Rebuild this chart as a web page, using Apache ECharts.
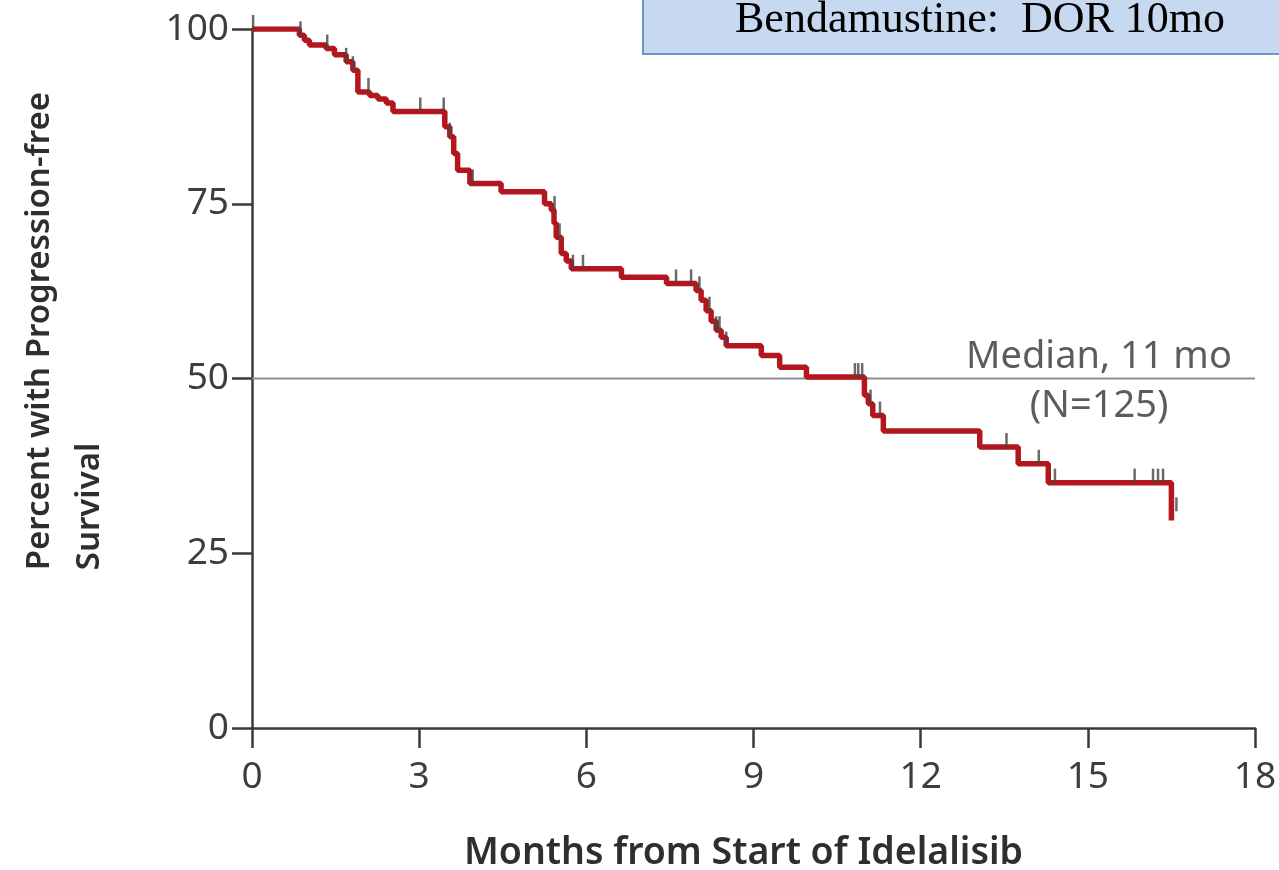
<!DOCTYPE html>
<html>
<head>
<meta charset="utf-8">
<title>Progression-free survival</title>
<script src="https://cdn.jsdelivr.net/npm/echarts@6/dist/echarts.min.js"></script>
<style>
  html, body { margin: 0; padding: 0; background: #fff; }
  #chart { width: 1279px; height: 870px; }
</style>
</head>
<body>
<div id="chart"></div>
<script>
	// Kaplan-Meier steps: time (months) and survival after each drop (%)
	const kmTimes = [0, 0.85, 0.94, 1.03, 1.33, 1.48, 1.69, 1.81, 1.90, 2.11,
		2.26, 2.41, 2.53, 3.46, 3.55, 3.62, 3.69, 3.91, 4.47, 5.25,
		5.37, 5.42, 5.46, 5.55, 5.64, 5.73, 6.63, 7.44, 7.97, 8.06,
		8.15, 8.24, 8.33, 8.42, 8.51, 9.14, 9.47, 9.95, 10.99, 11.06,
		11.14, 11.33, 13.06, 13.75, 14.29, 16.5];
	const kmSurv = [100, 99.1, 98.4, 97.7, 97.2, 96.3, 95.3, 94.1, 91.0, 90.5,
		90.0, 89.4, 88.2, 86.0, 84.6, 82.2, 79.8, 77.9, 76.7, 75.0,
		74.1, 72.2, 70.2, 67.9, 66.8, 65.7, 64.5, 63.6, 62.6, 61.2,
		59.7, 58.2, 56.9, 55.9, 54.7, 53.3, 51.6, 50.2, 47.6, 46.4,
		44.7, 42.5, 40.2, 37.8, 35.1, 29.7];

	// censored patients (tick marks)
	const censorTimes = [0.02, 0.87, 1.35, 1.69, 1.81, 2.09, 3.02, 3.44, 3.55, 3.96,
		5.43, 5.52, 5.76, 5.94, 7.61, 7.88, 8.03, 8.21, 8.33, 8.39,
		8.51, 10.82, 10.88, 10.95, 11.1, 11.27, 13.54, 14.12, 14.41, 15.84,
		16.17, 16.26, 16.35, 16.59];
	const censorSurv = [100, 99.1, 97.2, 95.3, 94.1, 91.0, 88.2, 88.2, 84.6, 77.9,
		74.1, 70.2, 65.7, 65.7, 63.6, 63.6, 62.6, 59.7, 56.9, 56.9,
		54.7, 50.2, 50.2, 50.2, 46.4, 44.7, 40.2, 37.8, 35.1, 35.1,
		35.1, 35.1, 35.1, 31];

	// median reference line
	const medianLineX = [0, 18];
	const medianValue = 50;
	const medianText = ['Median, 11 mo', '(N=125)'];
	const medianTextX = 15.2;

	const xTicks = { min: 0, max: 18, step: 3 };
	const yTicks = { min: 0, max: 100, step: 25 };

	const chart = echarts.init(document.getElementById('chart'));

	const axisColor = '#3a3a3a';
	const labelFont = 'Noto Sans';

	const option = {
		animation: false,
		title: {
			text: 'Bendamustine:  DOR 10mo',
			left: 643,
			top: -16,
			padding: [11, 90, 9, 92],
			backgroundColor: '#c6d9f0',
			borderColor: '#6d97cb',
			borderWidth: 2,
			textStyle: {
				fontFamily: 'Liberation Serif',
				fontSize: 44,
				fontWeight: 'normal',
				color: '#000',
				lineHeight: 50
			}
		},
		graphic: [{
			type: 'text',
			left: 15,
			top: 92,
			rotation: Math.PI / 2,
			style: {
				text: 'Percent with Progression-free\nSurvival',
				font: '600 33px "Noto Sans"',
				fill: '#2e2e2e',
				align: 'center',
				lineHeight: 50
			}
		}],
		grid: {
			left: 252,
			right: 24,
			top: 29,
			bottom: 142,
			outerBoundsMode: 'none'
		},
		xAxis: {
			type: 'value',
			min: xTicks.min,
			max: xTicks.max,
			interval: xTicks.step,
			name: 'Months from Start of Idelalisib',
			nameLocation: 'middle',
			nameGap: 106,
			nameTextStyle: {
				fontFamily: labelFont,
				fontSize: 37.5,
				fontWeight: 600,
				color: '#2e2e2e',
				padding: [0, 20, 0, 0]
			},
			axisLine: { lineStyle: { color: axisColor, width: 2.5 } },
			axisTick: { length: 20, lineStyle: { color: axisColor, width: 2.5 } },
			axisLabel: { fontFamily: labelFont, fontSize: 37, color: '#3d3d3d', margin: 31 },
			splitLine: { show: false }
		},
		yAxis: {
			type: 'value',
			min: yTicks.min,
			max: yTicks.max,
			interval: yTicks.step,
			axisLine: { show: true, lineStyle: { color: axisColor, width: 2.5 } },
			axisTick: { show: true, length: 20, lineStyle: { color: axisColor, width: 2.5 } },
			axisLabel: { fontFamily: labelFont, fontSize: 37, color: '#3d3d3d', margin: 23 },
			splitLine: { show: false }
		},
		series: [
			{
				name: 'median',
				type: 'line',
				silent: true,
				symbol: 'none',
				data: medianLineX.map(x => [x, medianValue]),
				lineStyle: { color: '#8e8e8e', width: 2 },
				z: 1
			},
			{
				name: 'PFS',
				type: 'line',
				step: 'end',
				symbol: 'none',
				data: kmTimes.map((t, i) => [t, kmSurv[i]]),
				lineStyle: { color: '#b3171e', width: 5.5 },
				z: 3
			},
			{
				name: 'censored',
				type: 'scatter',
				symbol: 'rect',
				symbolSize: [2.5, 14],
				symbolOffset: [0, -7],
				data: censorTimes.map((t, i) => [t, censorSurv[i]]),
				itemStyle: { color: '#454545' },
				z: 4
			},
			{
				name: 'median label',
				type: 'scatter',
				symbolSize: 0,
				silent: true,
				data: [
					{ value: [medianTextX, medianValue], label: { show: true, position: 'top', distance: 2, formatter: medianText[0] } },
					{ value: [medianTextX, medianValue], label: { show: true, position: 'bottom', distance: 9, formatter: medianText[1] } }
				],
				label: { fontFamily: labelFont, fontSize: 38, color: '#333333' },
				z: 2
			}
		]
	};

	chart.setOption(option);
</script>
</body>
</html>
